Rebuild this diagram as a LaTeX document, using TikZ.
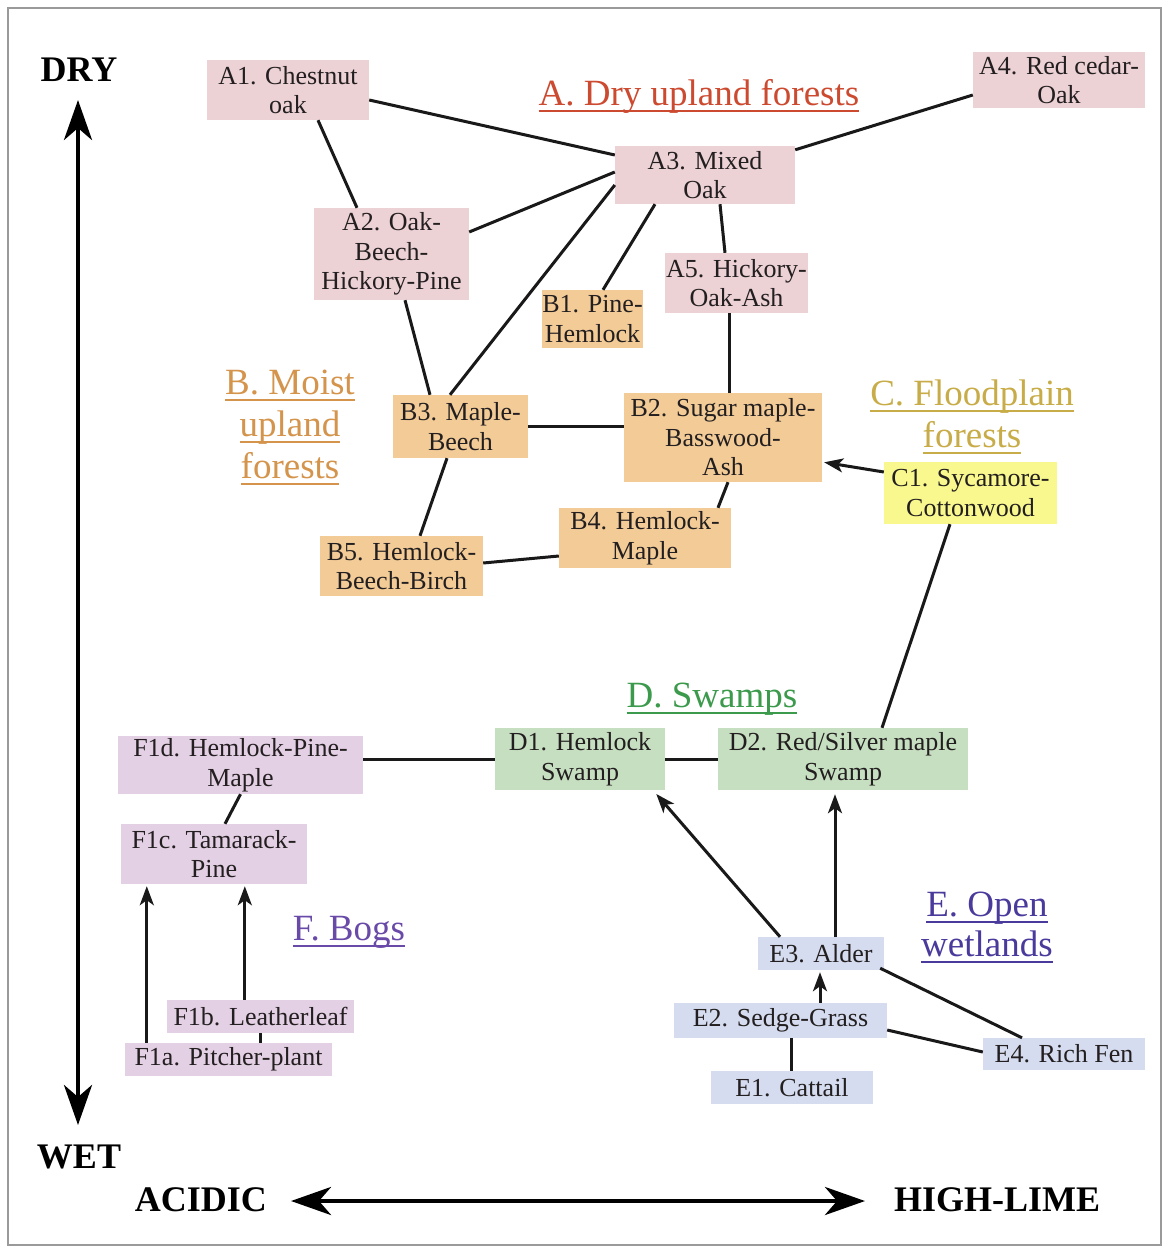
\documentclass[tikz,border=0pt]{standalone}
\usepackage{fontspec}
\setmainfont{Liberation Serif}
\usetikzlibrary{arrows.meta,calc}
\definecolor{pinkA}{HTML}{ECD1D5}
\definecolor{tanB}{HTML}{F2CB97}
\definecolor{yelC}{HTML}{F8F88E}
\definecolor{grnD}{HTML}{C7DFC1}
\definecolor{bluE}{HTML}{D5DCEF}
\definecolor{lavF}{HTML}{E4D0E4}
\definecolor{nodetext}{HTML}{231F20}
\definecolor{hA}{HTML}{CC4A30}
\definecolor{hB}{HTML}{D4944C}
\definecolor{hC}{HTML}{C8AC48}
\definecolor{hD}{HTML}{3C9A4C}
\definecolor{hE}{HTML}{4A3A9C}
\definecolor{hF}{HTML}{6A4AA8}
\definecolor{framecol}{HTML}{9A9A9A}
\newcommand\nodefont{\fontsize{26}{29.5}\selectfont}
\newcommand\headfont{\fontsize{37}{42}\selectfont}
\newcommand\axfont{\fontsize{36}{40}\selectfont\bfseries}
\newcommand\myul[1]{\setbox0=\hbox{#1}\rlap{\rule[-7pt]{\wd0}{2pt}}\box0}
\tikzset{
  box/.style={rectangle, inner sep=0pt, align=center, font=\nodefont, text=nodetext},
  Abox/.style={box, fill=pinkA},
  Bbox/.style={box, fill=tanB},
  Cbox/.style={box, fill=yelC},
  Dbox/.style={box, fill=grnD},
  Ebox/.style={box, fill=bluE},
  Fbox/.style={box, fill=lavF},
  link/.style={line width=3pt, draw=black!90},
  arr/.style={link, -{Stealth[length=19pt,width=14pt,inset=5pt]}},
  axis/.style={line width=4.5pt, {Stealth[length=40pt,width=28pt,inset=12pt]}-{Stealth[length=40pt,width=28pt,inset=12pt]}},
  head/.style={anchor=base, inner sep=0pt, font=\headfont},
  axlabel/.style={inner sep=0pt, font=\axfont, text=black}
}
\begin{document}
\begin{tikzpicture}[x=1pt,y=-1pt]
\useasboundingbox (0,0) rectangle (1169,1253);
\fill[white] (0,0) rectangle (1169,1253);
\draw[framecol, line width=2pt] (8,8) rectangle (1161,1245);

% A nodes
\node[Abox, minimum width=162, minimum height=60] (A1) at (288,90) {A1. Chestnut\\oak};
\node[Abox, minimum width=172, minimum height=56] (A4) at (1059,80) {A4. Red cedar-\\Oak};
\node[Abox, minimum width=180, minimum height=58] (A3) at (705,175) {A3. Mixed\\Oak};
\node[Abox, minimum width=155, minimum height=92] (A2) at (391.5,254) {A2. Oak-\\Beech-\\Hickory-Pine};
\node[Abox, minimum width=143, minimum height=60] (A5) at (736.5,283) {A5. Hickory-\\Oak-Ash};
% B nodes
\node[Bbox, minimum width=101, minimum height=58] (B1) at (592.5,319) {B1. Pine-\\Hemlock};
\node[Bbox, minimum width=135, minimum height=63] (B3) at (460.5,426.5) {B3. Maple-\\Beech};
\node[Bbox, minimum width=198, minimum height=89] (B2) at (723,437.5) {B2. Sugar maple-\\Basswood-\\Ash};
\node[Bbox, minimum width=172, minimum height=60] (B4) at (645,538) {B4. Hemlock-\\Maple};
\node[Bbox, minimum width=163, minimum height=60] (B5) at (401.5,566) {B5. Hemlock-\\Beech-Birch};
% C
\node[Cbox, minimum width=173, minimum height=62] (C1) at (970.5,493) {C1. Sycamore-\\Cottonwood};
% D
\node[Dbox, minimum width=170, minimum height=62] (D1) at (580,759) {D1. Hemlock\\Swamp};
\node[Dbox, minimum width=250, minimum height=62] (D2) at (843,759) {D2. Red/Silver maple\\Swamp};
% F
\node[Fbox, minimum width=245, minimum height=58] (F1d) at (240.5,765) {F1d. Hemlock-Pine-\\Maple};
\node[Fbox, minimum width=186, minimum height=60] (F1c) at (214,854) {F1c. Tamarack-\\Pine};
\node[Fbox, minimum width=187, minimum height=33] (F1b) at (260.5,1016.5) {F1b. Leatherleaf};
\node[Fbox, minimum width=207, minimum height=33] (F1a) at (228.5,1059.5) {F1a. Pitcher-plant};
% E
\node[Ebox, minimum width=126, minimum height=33] (E3) at (821,953.5) {E3. Alder};
\node[Ebox, minimum width=213, minimum height=35] (E2) at (780.5,1020.5) {E2. Sedge-Grass};
\node[Ebox, minimum width=162, minimum height=32] (E4) at (1064,1054) {E4. Rich Fen};
\node[Ebox, minimum width=162, minimum height=33] (E1) at (792,1087.5) {E1. Cattail};

% headings
\node[head, text=hA] (hdA) at (699,105) {\myul{A. Dry upland forests}};
\node[head, text=hB] (hdB1) at (290,394) {\myul{B. Moist}};
\node[head, text=hB] (hdB2) at (290,436) {\myul{upland}};
\node[head, text=hB] (hdB3) at (290,478) {\myul{forests}};
\node[head, text=hC] (hdC1) at (972,405) {\myul{C. Floodplain}};
\node[head, text=hC] (hdC2) at (972,447) {\myul{forests}};
\node[head, text=hD] (hdD) at (712,707) {\myul{D. Swamps}};
\node[head, text=hE] (hdE1) at (987,916) {\myul{E. Open}};
\node[head, text=hE] (hdE2) at (987,956) {\myul{wetlands}};
\node[head, text=hF] (hdF) at (349,940) {\myul{F. Bogs}};

% axes
\node[axlabel] (dry) at (79,70) {DRY};
\node[axlabel] (wet) at (79,1157) {WET};
\node[axlabel] (acid) at (201,1200) {ACIDIC};
\node[axlabel] (lime) at (997,1200) {HIGH-LIME};
\coordinate (dryTip) at (78,100);
\coordinate (wetTip) at (78,1125);
\coordinate (acidTip) at (291,1201);
\coordinate (limeTip) at (865,1201);
\draw[axis] (dryTip) -- (wetTip);
\draw[axis] (acidTip) -- (limeTip);

% connectors
\draw[link] ([yshift=-10]A1.east) -- ([yshift=20]A3.west);
\draw[link] ([xshift=30]A1.south) -- ([xshift=-34.5]A2.north);
\draw[link] ([yshift=22]A2.east) -- ([yshift=3]A3.west);
\draw[link] ([yshift=-10]A3.west) -- ([xshift=-10.5]B3.north);
\draw[link] ([xshift=-50]A3.south) -- ([xshift=10.5]B1.north);
\draw[link] ([xshift=15]A3.south) -- ([xshift=-11.5]A5.north);
\draw[link] ([yshift=-4]A3.north east) -- ([yshift=-15]A4.west);
\draw[link] ([xshift=13.5]A2.south) -- ([xshift=-30.5]B3.north);
\draw[link] ([xshift=-7.5]A5.south) -- ([xshift=-7.5]A5.south |- B2.north);
\draw[link] (B3.east) -- (B3.east -| B2.west);
\draw[link] ([xshift=-13.5]B3.south) -- ([xshift=18.5]B5.north);
\draw[link] ([xshift=5]B2.south) -- ([xshift=73]B4.north);
\draw[link] ([yshift=3]B5.east) -- ([yshift=-18]B4.west);
\draw[arr, shorten >=2pt] ([yshift=21]C1.west) -- ([yshift=-24.5]B2.east);
\draw[link] ([xshift=-20.5]C1.south) -- ([xshift=39]D2.north);
\draw[link] (D1.east) -- (D1.east -| D2.west);
\draw[link] (D1.west -| F1d.east) -- (D1.west);
\draw[link] (F1d.south) -- ([xshift=11]F1c.north);
\draw[arr, shorten >=2pt] ([xshift=22]F1a.north west) -- ([xshift=22]F1a.north west |- F1c.south);
\draw[arr, shorten >=2pt] ([xshift=78]F1b.north west) -- ([xshift=78]F1b.north west |- F1c.south);
\draw[link] (F1b.south) -- (F1b.south |- F1a.north);
\draw[arr, shorten >=5pt] ([xshift=-41]E3.north) -- ([xshift=73]D1.south);
\draw[arr, shorten >=4pt] ([xshift=14]E3.north) -- ([xshift=14]E3.north |- D2.south);
\draw[arr, shorten >=2pt] ([xshift=39.5]E2.north) -- ([xshift=39.5]E2.north |- E3.south);
\draw[link] ([xshift=-4,yshift=2]E3.south east) -- ([xshift=-42]E4.north);
\draw[link] ([yshift=-9.5]E2.east) -- ([yshift=2]E4.west);
\draw[link] ([xshift=10.5]E2.south) -- ([xshift=10.5]E2.south |- E1.north);
\end{tikzpicture}
\end{document}
